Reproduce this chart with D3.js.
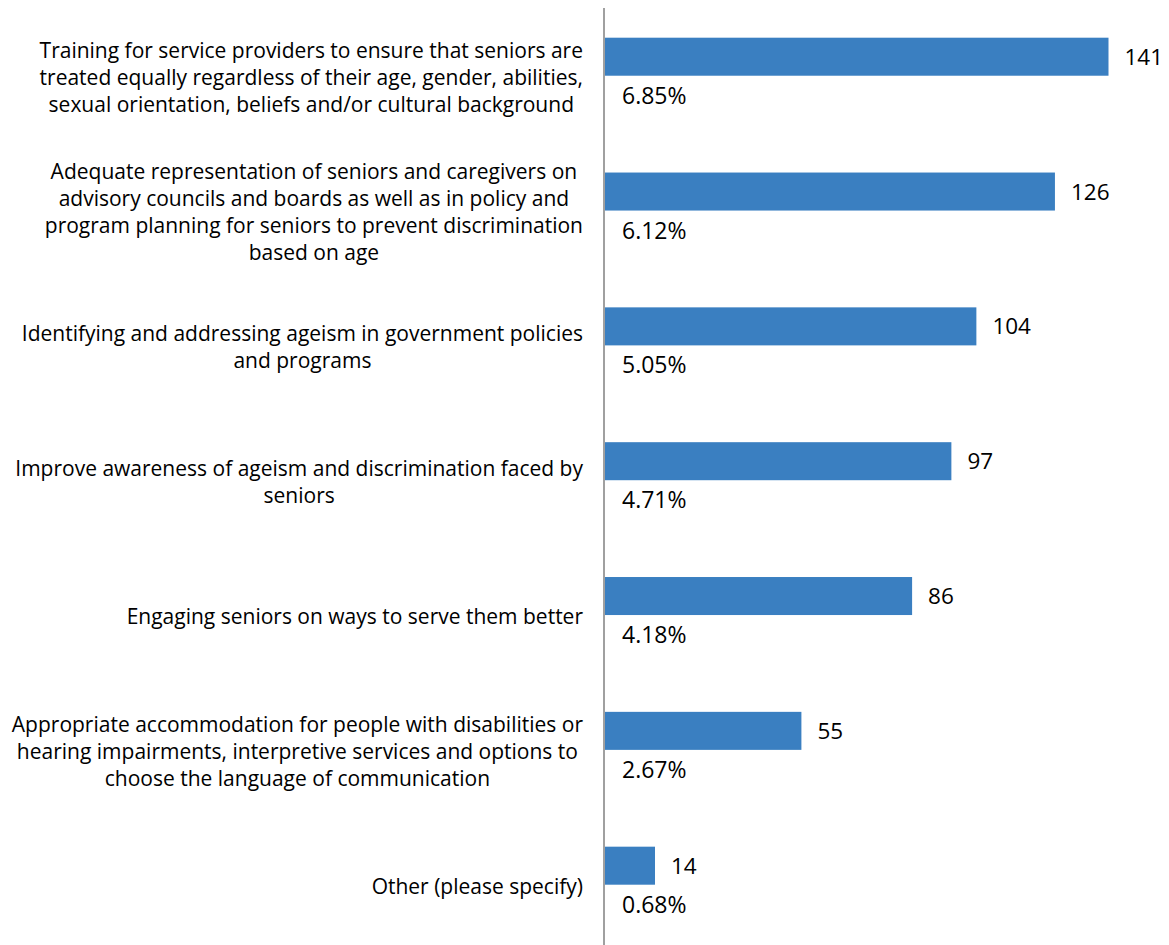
<!DOCTYPE html>
<html>
<head>
<meta charset="utf-8">
<script src="https://cdn.jsdelivr.net/npm/d3@7"></script>
<style>
  html, body { margin: 0; padding: 0; background: #ffffff; }
  svg { display: block; }
</style>
</head>
<body>
<svg id="chart" width="1169" height="945"></svg>
<script>
const categories = [
  "Training for service providers to ensure that seniors are\ntreated equally regardless of their age, gender, abilities,\nsexual orientation, beliefs and/or cultural background",
  "Adequate representation of seniors and caregivers on\nadvisory councils and boards as well as in policy and\nprogram planning for seniors to prevent discrimination\nbased on age",
  "Identifying and addressing ageism in government policies\nand programs",
  "Improve awareness of ageism and discrimination faced by\nseniors",
  "Engaging seniors on ways to serve them better",
  "Appropriate accommodation for people with disabilities or\nhearing impairments, interpretive services and options to\nchoose the language of communication",
  "Other (please specify)"
];
const counts = [141, 126, 104, 97, 86, 55, 14];
const percents = ["6.85%", "6.12%", "5.05%", "4.71%", "4.18%", "2.67%", "0.68%"];

const FONT = "'Open Sans', 'Noto Sans', sans-serif";
const svg = d3.select("#chart");

const x = d3.scaleLinear().domain([0, 141]).range([605, 1108.5]);
const y = d3.scaleBand().domain(categories)
  .range([37.7, 884.7]).paddingInner(0.718).paddingOuter(0).align(0);
const bw = y.bandwidth();

const data = categories.map((c, i) => ({c, v: counts[i], p: percents[i]}));

// bars
svg.append("g").selectAll("rect").data(data).join("rect")
  .attr("x", x(0))
  .attr("y", d => y(d.c))
  .attr("width", d => x(d.v) - x(0))
  .attr("height", bw)
  .attr("fill", "#3A7FC1");

// vertical axis line
const axis = d3.axisLeft(y).tickSize(0).tickFormat("");
const ag = svg.append("g").attr("transform", "translate(604,0)").call(axis);
ag.select(".domain").remove();
svg.append("line")
  .attr("x1", 604).attr("x2", 604)
  .attr("y1", 8).attr("y2", 945)
  .attr("stroke", "#A0A0A0").attr("stroke-width", 2);

// value labels
svg.append("g").selectAll("text").data(data).join("text")
  .attr("x", d => x(d.v) + 16)
  .attr("y", d => y(d.c) + bw / 2 + 8)
  .attr("font-family", FONT).attr("font-size", 22.5)
  .attr("fill", "#000")
  .text(d => d.v);

// percent labels
svg.append("g").selectAll("text").data(data).join("text")
  .attr("x", x(0) + 17)
  .attr("y", d => y(d.c) + bw + 28)
  .attr("font-family", FONT).attr("font-size", 23)
  .attr("fill", "#000")
  .text(d => d.p);

// category labels
const lineH = 26.8;
const catG = svg.append("g");
data.forEach(d => {
  const lines = d.c.split("\n");
  const t = catG.append("text")
    .attr("font-family", FONT).attr("font-size", 21)
    .attr("fill", "#000")
    .attr("text-anchor", "middle");
  const cy = y(d.c) + bw + 2;
  lines.forEach((ln, i) => {
    t.append("tspan")
      .attr("y", cy + (i - (lines.length - 1) / 2) * lineH + 7)
      .text(ln);
  });
  let maxW = 0;
  t.selectAll("tspan").each(function() {
    maxW = Math.max(maxW, this.getComputedTextLength());
  });
  t.selectAll("tspan").attr("x", 583 - maxW / 2);
});
</script>
</body>
</html>
